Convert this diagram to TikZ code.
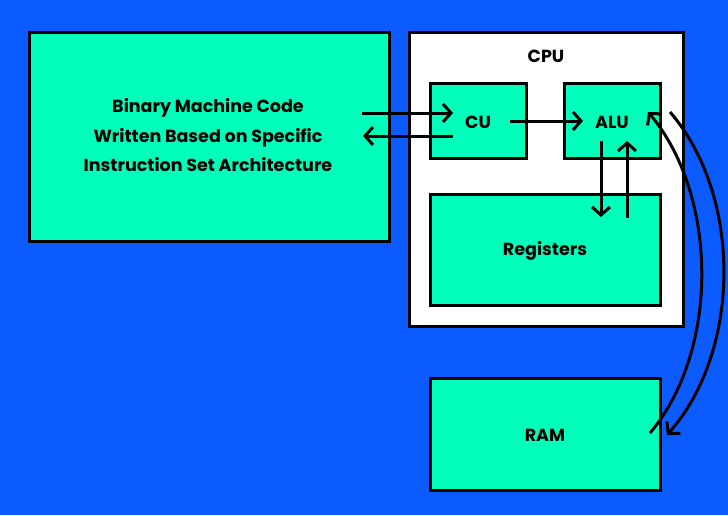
\documentclass[tikz,border=0pt]{standalone}
\usepackage{fontspec}
\setmainfont{Poppins}
\usetikzlibrary{arrows.meta}
\definecolor{bgblue}{HTML}{0B5BFF}
\definecolor{mint}{HTML}{00FFBB}
\begin{document}
\begin{tikzpicture}[x=1pt,y=-1pt,
  box/.style={draw=black,line width=3pt,fill=mint},
  lbl/.style={font=\bfseries\fontsize{17.5}{29.5}\selectfont,align=center},
  arr/.style={draw=black,line width=3pt,-{Straight Barb[length=8pt,width=18pt,line width=3pt]}}]
\fill[bgblue] (0,0) rectangle (728,515);
\useasboundingbox (0,0) rectangle (728,515);
\path[box] (29,32) rectangle (389,241);
\node[lbl] (code) at (208,135.5) {Binary Machine Code\\Written Based on Specific\\Instruction Set Architecture};
\path[draw=black,line width=3pt,fill=white] (409,32) rectangle (683,326);
\node[lbl] (cpu) at (546,56) {CPU};
\path[box] (430,83) rectangle (526,158);
\node[lbl] (cu) at (478,122) {CU};
\path[box] (564,83) rectangle (660,158);
\node[lbl] (alu) at (612,122) {ALU};
\path[box] (430,194) rectangle (660,305);
\node[lbl] (reg) at (545,251) {Registers};
\path[box] (430,378) rectangle (660,490);
\node[lbl] (ram) at (545,435) {RAM};
\coordinate (a1s) at (362,113); \coordinate (a1e) at (453,113);
\coordinate (a2s) at (453,136); \coordinate (a2e) at (363,136);
\coordinate (a3s) at (510,121); \coordinate (a3e) at (583,121);
\coordinate (a4s) at (601,141); \coordinate (a4e) at (601,217);
\coordinate (a5s) at (627,218); \coordinate (a5e) at (627,141);
\coordinate (c1s) at (650,433); \coordinate (c1e) at (648,112);
\coordinate (c2s) at (670,112); \coordinate (c2e) at (667,435);
\draw[arr] (a1s) -- (a1e);
\draw[arr] (a2s) -- (a2e);
\draw[arr] (a3s) -- (a3e);
\draw[arr] (a4s) -- (a4e);
\draw[arr] (a5s) -- (a5e);
\draw[arr] (c1s) .. controls (720,350) and (718,195) .. (c1e);
\draw[arr] (c2s) .. controls (742,195) and (742,350) .. (c2e);
\end{tikzpicture}
\end{document}
